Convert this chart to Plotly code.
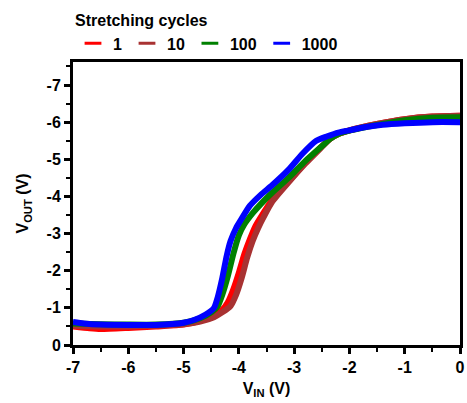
import plotly.graph_objects as go

names = ["1", "10", "100", "1000"]
colors = ["#ff0000", "#a83232", "#008000", "#0000ff"]

x_1 = [-7, -6.7, -6.5, -6, -5.5, -5, -4.7, -4.45, -4.3, -4.2, -4.1, -4.0, -3.9, -3.8, -3.7, -3.6, -3.4, -3.1, -2.8, -2.5, -2.35, -2.2, -2.0, -1.5, -1.0, -0.5, 0]
y_1 = [-0.5, -0.45, -0.43, -0.46, -0.5, -0.55, -0.65, -0.8, -0.95, -1.15, -1.5, -1.95, -2.45, -2.85, -3.2, -3.45, -3.9, -4.4, -4.9, -5.35, -5.55, -5.68, -5.78, -5.95, -6.08, -6.15, -6.17]

x_10 = [-7, -6.5, -6, -5.5, -5, -4.7, -4.45, -4.3, -4.15, -4.05, -3.95, -3.85, -3.75, -3.65, -3.55, -3.4, -3.1, -2.8, -2.5, -2.35, -2.2, -2.0, -1.5, -1.0, -0.5, 0]
y_10 = [-0.52, -0.5, -0.5, -0.52, -0.56, -0.63, -0.75, -0.88, -1.05, -1.35, -1.8, -2.35, -2.8, -3.15, -3.45, -3.85, -4.38, -4.88, -5.33, -5.55, -5.68, -5.78, -5.95, -6.08, -6.15, -6.17]

x_100 = [-7, -6.5, -6, -5.5, -5, -4.7, -4.5, -4.38, -4.3, -4.2, -4.1, -4.0, -3.9, -3.75, -3.6, -3.4, -3.1, -2.8, -2.5, -2.35, -2.2, -2.0, -1.7, -1.4, -1.0, -0.5, 0]
y_100 = [-0.58, -0.56, -0.55, -0.55, -0.6, -0.72, -0.88, -1.05, -1.35, -1.85, -2.45, -2.95, -3.25, -3.55, -3.8, -4.1, -4.5, -4.95, -5.35, -5.55, -5.68, -5.77, -5.87, -5.95, -6.05, -6.12, -6.13]

x_1000 = [-7, -6.8, -6.5, -6, -5.5, -5, -4.8, -4.6, -4.45, -4.38, -4.3, -4.22, -4.15, -4.05, -3.95, -3.8, -3.6, -3.4, -3.1, -2.85, -2.6, -2.4, -2.2, -2.0, -1.7, -1.4, -1.0, -0.5, 0]
y_1000 = [-0.62, -0.58, -0.55, -0.54, -0.54, -0.6, -0.68, -0.82, -1.0, -1.3, -1.8, -2.4, -2.8, -3.15, -3.4, -3.75, -4.05, -4.3, -4.72, -5.15, -5.5, -5.62, -5.72, -5.78, -5.87, -5.93, -5.97, -6.0, -6.0]

xs = [x_1, x_10, x_100, x_1000]
ys = [y_1, y_10, y_100, y_1000]

x_ticks = [-7, -6, -5, -4, -3, -2, -1, 0]
y_ticks = [0, -1, -2, -3, -4, -5, -6, -7]

fig = go.Figure()
for n, c, x, y in zip(names, colors, xs, ys):
    fig.add_trace(go.Scatter(x=x, y=y, mode="lines", name=n, showlegend=False,
                             line=dict(color=c, width=6, shape="spline", smoothing=0.6)))
# legend entries (short dash symbols)
for n, c in zip(names, colors):
    fig.add_trace(go.Scatter(x=[None], y=[None], mode="markers", name=n,
                             marker=dict(symbol="line-ew-open", size=12, color=c,
                                         line=dict(color=c, width=3))))

font = dict(family="Liberation Sans, Arial, sans-serif", size=16, color="black", weight="bold")

axis_common = dict(showline=True, linewidth=3, linecolor="black", mirror=True,
                   ticks="outside", ticklen=6, tickwidth=3, tickcolor="black",
                   showgrid=False, zeroline=False, tickfont=font,
                   minor=dict(dtick=0.5, ticks="outside", ticklen=4, tickwidth=2, tickcolor="black"))

fig.update_layout(
    width=467, height=403,
    margin=dict(l=73, r=7, t=62, b=58, autoexpand=False),
    paper_bgcolor="white", plot_bgcolor="white",
    font=font,
    showlegend=True,
    legend=dict(orientation="h", x=0.0, y=0.986, xanchor="left", yanchor="top",
                yref="container",
                title=dict(text="Stretching cycles", side="top", font=font),
                font=font, itemwidth=30, tracegroupgap=0, bgcolor="rgba(0,0,0,0)"),
    xaxis=dict(range=[-7, 0], tickvals=x_ticks, ticktext=[str(v) for v in x_ticks],
               title=dict(text="V<sub>IN</sub> (V)", font=font, standoff=8), **axis_common),
    yaxis=dict(range=[0, -7.62], tickvals=y_ticks, ticktext=[str(v) for v in y_ticks],
               title=dict(text="V<sub>OUT</sub> (V)", font=font, standoff=14), **axis_common),
)

fig.write_html("out.html")
